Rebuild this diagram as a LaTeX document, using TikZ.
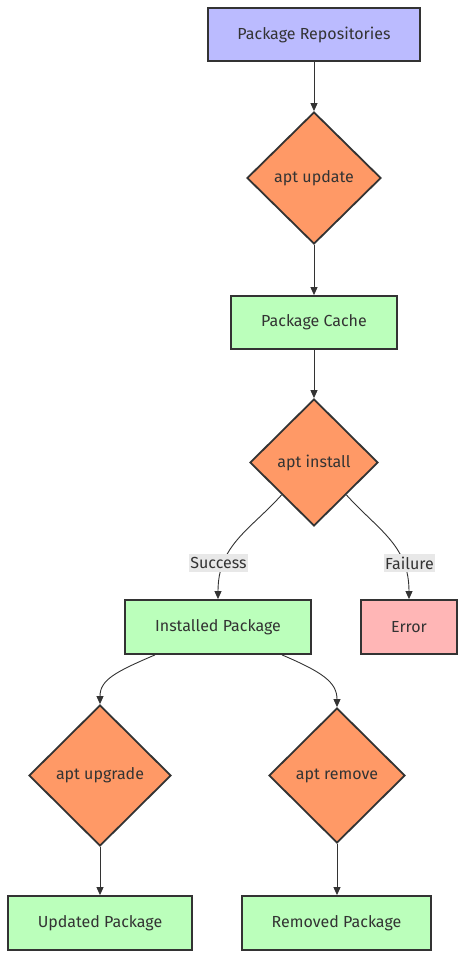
\documentclass[tikz,border=0pt]{standalone}
\usepackage{fontspec}
\setmainfont{Fira Sans}
\usetikzlibrary{shapes.geometric,arrows.meta}
\definecolor{txt}{HTML}{333333}
\definecolor{blu}{HTML}{BBBBFF}
\definecolor{grn}{HTML}{BBFFBB}
\definecolor{org}{HTML}{FF9966}
\definecolor{errc}{HTML}{FFB6B6}
\definecolor{lblbg}{HTML}{E8E8E8}
\tikzset{
  base/.style={draw=txt, line width=1.8pt, text=txt, font=\fontsize{16}{19}\selectfont, inner sep=0pt},
  boxnode/.style={base, rectangle, minimum height=53pt},
  dia/.style={base, diamond, aspect=1},
  conn/.style={draw=txt, line width=0.9pt, -{Triangle[length=8pt,width=7pt]}},
  lbl/.style={fill=lblbg, text=txt, font=\fontsize{16}{19}\selectfont, inner xsep=1.5pt, inner ysep=3pt}
}
\begin{document}
\begin{tikzpicture}[x=1pt,y=-1pt]
\useasboundingbox (0,0) rectangle (465,959);
\node[boxnode, fill=blu, minimum width=212pt] (repo) at (314,34.5) {Package Repositories};
\node[dia, fill=org, minimum width=134pt, minimum height=132pt] (upd) at (314,178) {apt update};
\node[boxnode, fill=grn, minimum width=166pt] (cache) at (314,322.5) {Package Cache};
\node[dia, fill=org, minimum width=128pt, minimum height=127pt] (inst) at (314,462.5) {apt install};
\node[boxnode, fill=grn, minimum width=186pt, minimum height=54pt] (installed) at (218,627) {Installed Package};
\node[boxnode, fill=errc, minimum width=96pt, minimum height=54pt] (err) at (409,627) {Error};
\node[dia, fill=org, minimum width=142pt, minimum height=141pt] (upg) at (100,775.5) {apt upgrade};
\node[dia, fill=org, minimum width=136pt, minimum height=135pt] (rem) at (337,775.5) {apt remove};
\node[boxnode, fill=grn, minimum width=184pt, minimum height=54pt] (updated) at (100,923) {Updated Package};
\node[boxnode, fill=grn, minimum width=189pt, minimum height=54pt] (removed) at (336.5,923) {Removed Package};

\draw[conn] (repo.south) -- (upd.north);
\draw[conn] (upd.south) -- (cache.north);
\draw[conn] (cache.south) -- (inst.north);
\draw[conn] (inst.-135) .. controls (250,530) and (218,545) .. (installed.north);
\draw[conn] (inst.-45) .. controls (378,530) and (409,545) .. (err.north);
\draw[conn] ([xshift=-63pt]installed.south) .. controls (115,672) and (100,680) .. (upg.north);
\draw[conn] ([xshift=64pt]installed.south) .. controls (322,672) and (337,682) .. (rem.north);
\draw[conn] (upg.south) -- (updated.north);
\draw[conn] (rem.south) -- ([xshift=0.5pt]removed.north);

\node[lbl] (succ) at (218.5,563) {Success};
\node[lbl] (fail) at (409.5,563) {Failure};
\end{tikzpicture}
\end{document}
